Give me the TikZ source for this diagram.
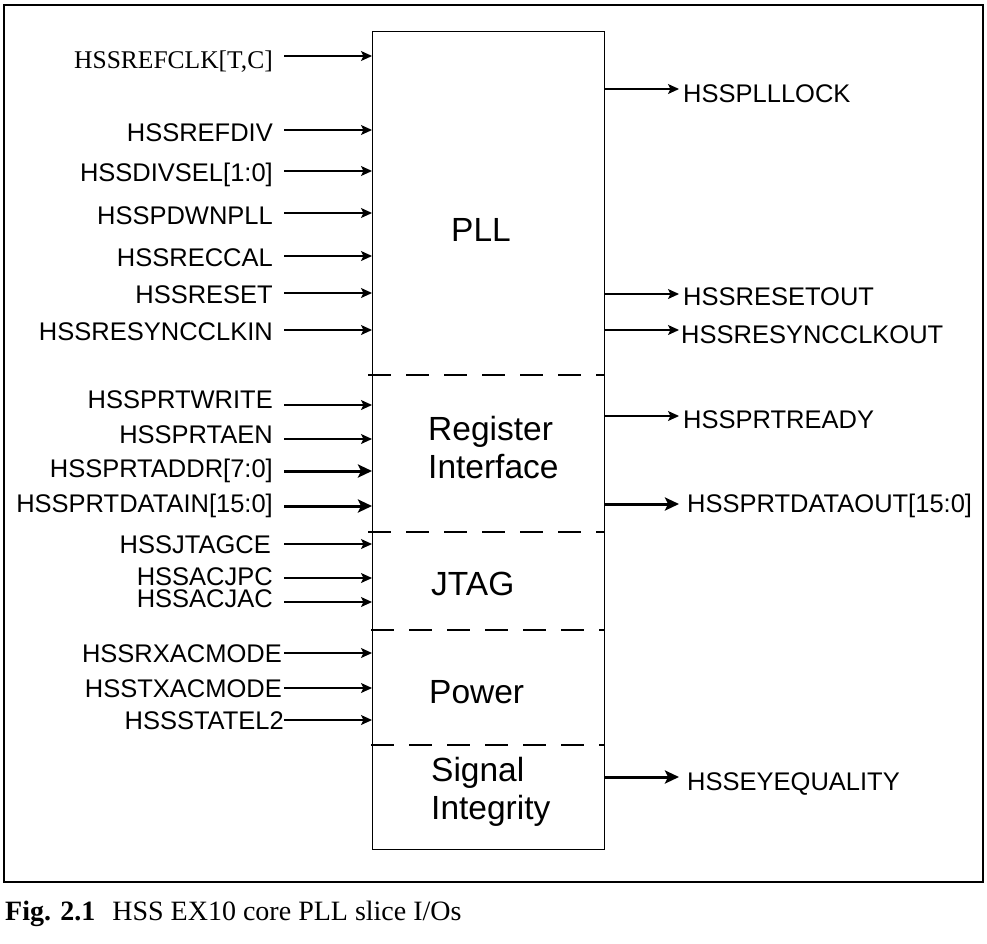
\documentclass[tikz,border=0pt]{standalone}
\usepackage{fontspec}
\setmainfont{Liberation Sans}
\newfontfamily\seriffam{Liberation Serif}
\usetikzlibrary{arrows.meta}

% input signal: name, line style, text right x, text baseline, arrow y, text
\newcommand\insig[6]{%
  \node[inlbl] (#1) at (#3,#4) {#6};
  \coordinate (#1-o) at (284,#5);
  \draw[#2] (#1-o) -- (core.west |- #1-o);
}
% output signal: name, line style, arrow y, text left x, text baseline, text
\newcommand\outsig[6]{%
  \node[outlbl] (#1) at (#4,#5) {#6};
  \coordinate (#1-i) at (679,#3);
  \draw[#2] (core.east |- #1-i) -- (#1-i);
}

\begin{document}
\begin{tikzpicture}[x=1pt,y=-1pt,
  lbl/.style={font=\fontsize{25.5}{30}\selectfont, inner sep=0pt},
  inlbl/.style={lbl, anchor=base east},
  outlbl/.style={lbl, anchor=base west},
  blk/.style={font=\fontsize{33.5}{38.5}\selectfont, inner sep=0pt, align=left},
  sig/.style={line width=1.2pt, -{Stealth[length=11pt,width=10pt,inset=2.5pt]}},
  bus/.style={line width=3pt, -{Stealth[length=14pt,width=13pt,inset=3pt]}},
  part/.style={line width=1.2pt, dash pattern=on 23pt off 15pt},
]
\useasboundingbox (0,0) rectangle (987,943);

% outer frame
\draw[line width=2.6pt] (4,5) rectangle (983,882);

% core PLL slice
\node[draw, line width=1.3pt, minimum width=232pt, minimum height=818pt,
      inner sep=0pt, anchor=north west] (core) at (372,31) {};

% section separators
\draw[part] ([xshift=-4pt]core.west |- 0,375) -- (core.east |- 0,375);
\draw[part] ([xshift=-4pt]core.west |- 0,532) -- (core.east |- 0,532);
\draw[part] ([xshift=-1pt]core.west |- 0,630) -- (core.east |- 0,630);
\draw[part] ([xshift=-1pt]core.west |- 0,745) -- (core.east |- 0,745);

% section titles
\node[blk, anchor=base west] (pll) at (451,241) {PLL};
\node[blk, anchor=north west] (regif) at (428,416) {Register\\Interface};
\node[blk, anchor=base west] (jtag) at (431,595) {JTAG};
\node[blk, anchor=base west] (power) at (429,703) {Power};
\node[blk, anchor=north west] (sigint) at (431,757) {Signal\\Integrity};

% inputs
\insig{refclk}{sig}{273}{68}{56}{{\seriffam HSSREFCLK[T,C]}}
\insig{refdiv}{sig}{273}{141.5}{130}{HSSREFDIV}
\insig{divsel}{sig}{273}{181.5}{171}{HSSDIVSEL[1:0]}
\insig{pdwnpll}{sig}{273}{224}{213}{HSSPDWNPLL}
\insig{reccal}{sig}{273}{266}{256}{HSSRECCAL}
\insig{reset}{sig}{273}{303}{293}{HSSRESET}
\insig{resyncin}{sig}{273}{340}{330}{HSSRESYNCCLKIN}
\insig{prtwrite}{sig}{273}{408}{405}{HSSPRTWRITE}
\insig{prtaen}{sig}{273}{443}{439}{HSSPRTAEN}
\insig{prtaddr}{bus}{273}{477}{471}{HSSPRTADDR[7:0]}
\insig{prtdatain}{bus}{273}{512}{506}{HSSPRTDATAIN[15:0]}
\insig{jtagce}{sig}{271}{553}{544}{HSSJTAGCE}
\insig{acjpc}{sig}{273}{585}{578}{HSSACJPC}
\insig{acjac}{sig}{273}{607}{602}{HSSACJAC}
\insig{rxacmode}{sig}{282}{662}{653}{HSSRXACMODE}
\insig{txacmode}{sig}{282}{697}{688}{HSSTXACMODE}
\insig{statel2}{sig}{284}{729}{720}{HSSSTATEL2}

% outputs
\outsig{plllock}{sig}{89}{683}{102}{HSSPLLLOCK}
\outsig{resetout}{sig}{294}{683}{305}{HSSRESETOUT}
\outsig{resyncout}{sig}{330}{681}{343}{HSSRESYNCCLKOUT}
\outsig{prtready}{sig}{416}{683}{428}{HSSPRTREADY}
\outsig{prtdataout}{bus}{504}{687}{512}{HSSPRTDATAOUT[15:0]}
\outsig{eyeq}{bus}{777}{687}{790}{HSSEYEQUALITY}

% caption
\node[font=\seriffam\fontsize{28}{33}\selectfont, inner sep=0pt, anchor=base west]
  (caption) at (5,920) {\textbf{Fig. 2.1}\hspace{17pt}HSS EX10 core PLL slice I/Os};
\end{tikzpicture}
\end{document}
